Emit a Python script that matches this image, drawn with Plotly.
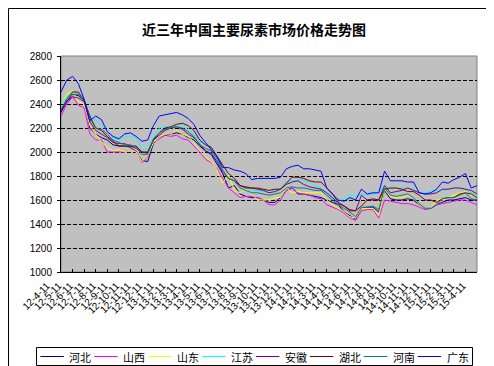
import plotly.graph_objects as go

# ---------------- data ----------------
month_labels = [
    "12-4-11", "12-5-11", "12-6-11", "12-7-11", "12-8-11", "12-9-11", "12-10-11", "12-11-11", "12-12-11",
    "13-1-11", "13-2-11", "13-3-11", "13-4-11", "13-5-11", "13-6-11", "13-7-11", "13-8-11", "13-9-11",
    "13-10-11", "13-11-11", "13-12-11",
    "14-1-11", "14-2-11", "14-3-11", "14-4-11", "14-5-11", "14-6-11", "14-7-11", "14-8-11", "14-9-11",
    "14-10-11", "14-11-11", "14-12-11",
    "15-1-11", "15-2-11", "15-3-11", "15-4-11",
]

# sample positions, in months from 12-4-11 (half-month steps)
sample_pos = [i / 2 for i in range(73)]

hebei = [
    2330, 2420, 2480, 2470, 2430, 2200, 2150, 2120, 2100, 2060,
    2050, 2050, 2040, 2000, 1930, 1920, 2070, 2120, 2140, 2150,
    2160, 2150, 2120, 2100, 2050, 2010, 1980, 1900, 1820, 1700,
    1720, 1650, 1630, 1620, 1620, 1600, 1580, 1580, 1620, 1680,
    1700, 1650, 1650, 1640, 1630, 1620, 1600, 1580, 1560, 1500,
    1470, 1440, 1530, 1540, 1540, 1500, 1680, 1610, 1600, 1600,
    1610, 1600, 1560, 1530, 1530, 1560, 1580, 1600, 1600, 1610,
    1620, 1600, 1600,
]
shanxi = [
    2300, 2400, 2460, 2390, 2370, 2150, 2100, 2100, 2000, 2000,
    2000, 2000, 2020, 2010, 1910, 1960, 2080, 2110, 2140, 2130,
    2140, 2110, 2100, 2050, 2000, 1940, 1910, 1860, 1780, 1700,
    1660, 1620, 1630, 1630, 1620, 1600, 1560, 1560, 1600, 1680,
    1700, 1660, 1650, 1640, 1620, 1610, 1560, 1540, 1520, 1490,
    1450, 1430, 1510, 1520, 1520, 1450, 1600, 1590, 1580, 1570,
    1570, 1560, 1540, 1520, 1530, 1560, 1570, 1580, 1590, 1600,
    1600, 1580, 1560,
]
shandong = [
    2400, 2480, 2510, 2420, 2400, 2220, 2150, 2080, 2040, 2010,
    2020, 2000, 2020, 2000, 1920, 1970, 2080, 2120, 2150, 2150,
    2180, 2150, 2130, 2080, 2010, 1960, 1920, 1850, 1740, 1810,
    1680, 1660, 1690, 1650, 1600, 1600, 1600, 1620, 1620, 1700,
    1660, 1670, 1660, 1660, 1660, 1660, 1600, 1560, 1530, 1500,
    1460, 1450, 1530, 1530, 1530, 1470, 1690, 1630, 1620, 1620,
    1640, 1620, 1560, 1530, 1530, 1600, 1600, 1620, 1640, 1660,
    1670, 1640, 1630,
]
jiangsu = [
    2400, 2460, 2500, 2480, 2430, 2290, 2270, 2230, 2180, 2120,
    2100, 2130, 2130, 2120, 2020, 2020, 2120, 2200, 2210, 2210,
    2230, 2230, 2200, 2150, 2080, 2070, 2020, 1950, 1850, 1780,
    1760, 1720, 1700, 1680, 1680, 1670, 1680, 1680, 1700, 1750,
    1760, 1770, 1760, 1750, 1720, 1700, 1660, 1620, 1590, 1610,
    1640, 1630, 1650, 1640, 1650, 1660, 1720, 1700, 1700, 1700,
    1700, 1690, 1660, 1660, 1670, 1680, 1680, 1690, 1700, 1700,
    1690, 1660, 1640,
]
anhui = [
    2350, 2420, 2460, 2450, 2420, 2250, 2180, 2150, 2120, 2080,
    2070, 2070, 2050, 2030, 2000, 1990, 2100, 2140, 2180, 2200,
    2210, 2190, 2150, 2120, 2060, 2010, 1990, 1920, 1830, 1780,
    1760, 1720, 1710, 1700, 1690, 1680, 1660, 1670, 1690, 1730,
    1750, 1760, 1730, 1710, 1700, 1690, 1660, 1620, 1570, 1550,
    1520, 1510, 1640, 1600, 1610, 1600, 1720, 1660, 1670, 1680,
    1700, 1680, 1660, 1650, 1650, 1660, 1690, 1690, 1700, 1700,
    1690, 1680, 1650,
]
hubei = [
    2340, 2440, 2500, 2500, 2430, 2300, 2200, 2180, 2130, 2090,
    2050, 2050, 2050, 2050, 2000, 2000, 2100, 2160, 2200, 2210,
    2230, 2240, 2220, 2180, 2100, 2060, 2040, 1960, 1890, 1820,
    1780, 1720, 1700, 1700, 1700, 1690, 1680, 1690, 1690, 1740,
    1790, 1790, 1780, 1760, 1750, 1750, 1700, 1650, 1580, 1550,
    1510, 1510, 1550, 1600, 1600, 1600, 1690, 1700, 1700, 1690,
    1670, 1670, 1640, 1600, 1600, 1580, 1610, 1620, 1620, 1650,
    1660, 1650, 1620,
]
henan = [
    2350, 2440, 2480, 2480, 2440, 2280, 2200, 2190, 2150, 2100,
    2080, 2060, 2060, 2040, 1980, 1980, 2110, 2160, 2190, 2200,
    2210, 2200, 2170, 2130, 2060, 2030, 2010, 1940, 1850, 1780,
    1760, 1700, 1680, 1660, 1660, 1650, 1640, 1650, 1660, 1700,
    1710, 1700, 1700, 1690, 1680, 1680, 1640, 1600, 1560, 1530,
    1500, 1460, 1540, 1540, 1550, 1520, 1700, 1640, 1630, 1640,
    1650, 1620, 1570, 1530, 1530, 1560, 1610, 1620, 1620, 1640,
    1660, 1610, 1600,
]
guangdong = [
    2500, 2600, 2630, 2570, 2440, 2260, 2300, 2270, 2170, 2130,
    2110, 2150, 2160, 2130, 2090, 2100, 2220, 2300, 2310, 2320,
    2330, 2310, 2280, 2230, 2140, 2080, 2020, 1960, 1870, 1870,
    1850, 1840, 1820, 1770, 1780, 1780, 1780, 1780, 1790, 1860,
    1880, 1890, 1860, 1860, 1850, 1840, 1700, 1650, 1600, 1590,
    1620, 1600, 1690, 1650, 1660, 1660, 1840, 1760, 1760, 1760,
    1750, 1750, 1660, 1650, 1660, 1690, 1750, 1740, 1770, 1790,
    1820, 1700, 1720,
]

series_names = ["河北", "山西", "山东", "江苏", "安徽", "湖北", "河南", "广东"]
series_values = [hebei, shanxi, shandong, jiangsu, anhui, hubei, henan, guangdong]
series_colors = ["#000080", "#FF00FF", "#FFFF00", "#00FFFF", "#800080", "#800000", "#008080", "#0000FF"]

y_ticks = [1000, 1200, 1400, 1600, 1800, 2000, 2200, 2400, 2600, 2800]

title_text = "近三年中国主要尿素市场价格走势图"

# ---------------- figure ----------------
W, H = 494, 366
ML, MR, MT, MB = 53, 25, 48, 102
PW, PH = W - ML - MR, H - MT - MB


def px_x(p):
    return (p - ML) / PW


def px_y(p):
    return (H - MB - p) / PH


fig = go.Figure()
for name, vals, col in zip(series_names, series_values, series_colors):
    fig.add_trace(go.Scatter(
        x=sample_pos, y=vals, name=name, mode="lines",
        line=dict(color=col, width=1), showlegend=False,
    ))

shapes = [
    # plot-area border
    dict(type="rect", xref="paper", yref="paper", x0=0, x1=1, y0=0, y1=1,
         line=dict(color="#808080", width=1), layer="below"),
    # outer chart border
    dict(type="rect", xref="paper", yref="paper",
         x0=px_x(0.5), x1=px_x(W - 0.5), y0=px_y(H - 0.5), y1=px_y(0.5),
         line=dict(color="black", width=1)),
    # legend box
    dict(type="rect", xref="paper", yref="paper",
         x0=px_x(28.5), x1=px_x(464.5), y0=px_y(357.5), y1=px_y(339.5),
         line=dict(color="black", width=1), fillcolor="white"),
]
annotations = []
step = 53.9
for i, (name, col) in enumerate(zip(series_names, series_colors)):
    x0 = 32.3 + i * step
    shapes.append(dict(type="line", xref="paper", yref="paper",
                       x0=px_x(x0), x1=px_x(x0 + 23.5), y0=px_y(348.5), y1=px_y(348.5),
                       line=dict(color=col, width=1)))
    annotations.append(dict(xref="paper", yref="paper", x=px_x(x0 + 27), y=px_y(348.5),
                            text=name, showarrow=False, xanchor="left", yanchor="middle",
                            font=dict(family="Noto Sans CJK SC", size=11, color="black")))

fig.update_layout(
    width=W, height=H,
    margin=dict(l=ML, r=MR, t=MT, b=MB),
    paper_bgcolor="white", plot_bgcolor="#C0C0C0",
    title=dict(text="<b>" + title_text + "</b>", x=246 / W, xanchor="center",
               y=1 - 22 / H, yanchor="middle",
               font=dict(family="Noto Sans CJK SC", size=14, color="black")),
    shapes=shapes, annotations=annotations,
    showlegend=False,
)
fig.update_xaxes(
    range=[0, 36], tickmode="array", tickvals=list(range(len(month_labels))), ticktext=month_labels,
    tickangle=-45, tickfont=dict(family="Liberation Sans", size=10, color="black"),
    ticklabelstandoff=3, ticklabelshift=-14,
    showgrid=False, zeroline=False, showline=True, linecolor="black", linewidth=1,
    ticks="inside", ticklen=3, tickcolor="black",
)
fig.update_yaxes(
    range=[1000, 2800], tickmode="array", tickvals=y_ticks,
    tickfont=dict(family="Liberation Sans", size=10, color="black"),
    ticklabelstandoff=3,
    showgrid=True, gridcolor="black", gridwidth=1, griddash="4px,2px",
    zeroline=False, showline=True, linecolor="black", linewidth=1,
    ticks="outside", ticklen=3, tickcolor="black",
)

fig.write_html("out.html")
